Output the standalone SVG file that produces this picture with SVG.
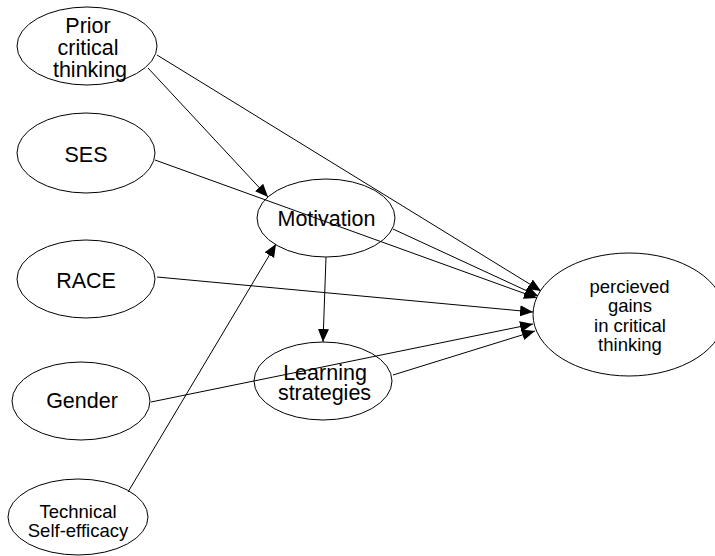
<svg xmlns="http://www.w3.org/2000/svg" width="715" height="556" viewBox="0 0 715 556">
<style>
.n{fill:#fff;stroke:#000;stroke-width:1}
.t{font-family:"Liberation Sans",Arial,sans-serif;font-size:21.5px;fill:#000;text-anchor:middle}
.s{font-size:18.5px}
.e{stroke:#000;stroke-width:1;fill:none;marker-end:url(#ah)}
</style>
<defs>
<marker id="ah" markerUnits="userSpaceOnUse" markerWidth="14" markerHeight="12" refX="13" refY="5.5" orient="auto">
<path d="M0,0 L13,5.5 L0,11 Z" fill="#000"/>
</marker>
</defs>
<g id="prior"><ellipse class="n" cx="87" cy="46" rx="70" ry="39"/><text class="t" x="88" y="33">Prior</text><text class="t" x="88" y="55">critical</text><text class="t" x="90" y="77">thinking</text></g>
<g id="ses"><ellipse class="n" cx="86" cy="153" rx="69" ry="40"/><text class="t" x="86" y="162">SES</text></g>
<g id="race"><ellipse class="n" cx="86" cy="279" rx="69" ry="39"/><text class="t" x="86" y="288">RACE</text></g>
<g id="gender"><ellipse class="n" cx="81" cy="401" rx="69" ry="39"/><text class="t" x="82" y="408">Gender</text></g>
<g id="tech"><ellipse class="n" cx="78" cy="517" rx="70" ry="38"/><text class="t s" x="78" y="518">Technical</text><text class="t s" x="78" y="537">Self-efficacy</text></g>
<g id="motivation"><ellipse class="n" cx="326" cy="218" rx="69" ry="39"/><text class="t" x="326.5" y="226">Motivation</text></g>
<g id="learning"><ellipse class="n" cx="323" cy="381" rx="69" ry="39"/><text class="t" x="325" y="379.5">Learning</text><text class="t" x="324.5" y="400">strategies</text></g>
<g id="perceived"><ellipse class="n" cx="629" cy="314.5" rx="96" ry="61.5"/><text class="t s" x="629.5" y="293">percieved</text><text class="t s" x="630" y="312">gains</text><text class="t s" x="630" y="332">in critical</text><text class="t s" x="630" y="351">thinking</text></g>
<g id="connectors">
<line class="e" x1="148" y1="68" x2="268" y2="197"/>
<line class="e" x1="157" y1="55" x2="541" y2="291"/>
<line class="e" x1="155" y1="160" x2="537" y2="298"/>
<line class="e" x1="393" y1="229" x2="538" y2="296"/>
<line class="e" x1="157" y1="277" x2="533" y2="312"/>
<line class="e" x1="151" y1="402" x2="533" y2="324"/>
<line class="e" x1="393" y1="375" x2="535" y2="331"/>
<line class="e" x1="326" y1="257" x2="323" y2="342"/>
<line class="e" x1="128" y1="492" x2="276" y2="244"/>
</g>
</svg>
